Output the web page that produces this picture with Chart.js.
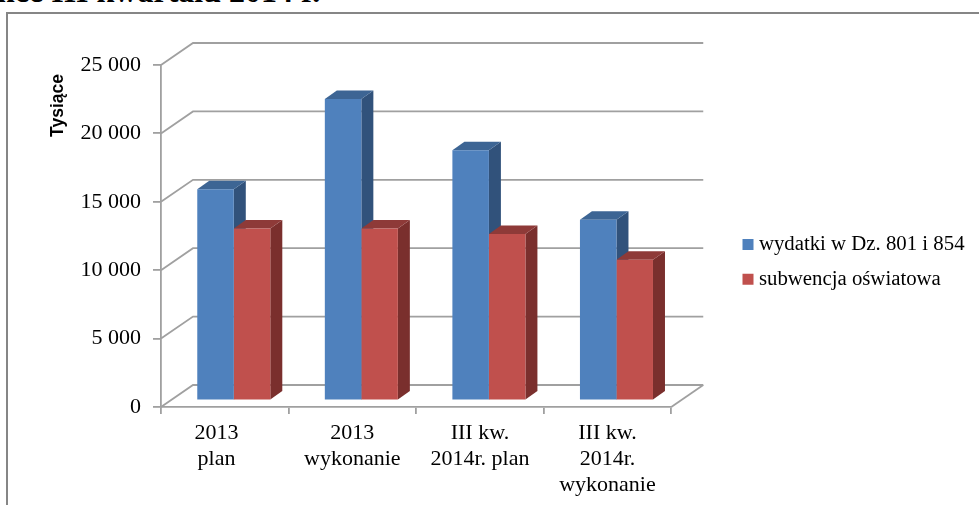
<!DOCTYPE html>
<html lang="pl">
<head>
<meta charset="utf-8">
<title>Wydatki i subwencja</title>
<script src="https://cdn.jsdelivr.net/npm/chart.js"></script>
<style>
  html, body { margin: 0; padding: 0; background: #fff; width: 979px; height: 505px; overflow: hidden; }
  #heading { position: absolute; left: -3px; top: -26px; font: bold 32px "Liberation Serif", serif; line-height: 34px; color: #000; white-space: nowrap; }
  #frame { position: absolute; left: 6px; top: 12px; width: 990px; height: 510px; border: 2px solid #868686; }
  canvas { position: absolute; left: 0; top: 0; }
</style>
</head>
<body>
<div id="heading">nce III kwartału 2014 r.</div>
<div id="frame"></div>
<canvas id="chart" width="979" height="505"></canvas>
<script>
  const categories = [['2013', 'plan'], ['2013', 'wykonanie'], ['III kw.', '2014r. plan'], ['III kw.', '2014r.', 'wykonanie']];
  const wydatki = [15440, 22040, 18290, 13220];
  const subwencja = [12580, 12580, 12180, 10290];
  const seriesNames = ['wydatki w Dz. 801 i 854', 'subwencja oświatowa'];
  const yTitle = 'Tysiące';

  const GRID = '#a0a0a0';
  // przesuniecie tylnej sciany i slupkow (pseudo 3D)
  const WALL = { dx: 32, dy: -22 };
  const BAR_SHIFT = { dx: 9, dy: -6.5 };
  const BAR_DEPTH = { dx: 12, dy: -8.5 };
  const shades = [
    { top: '#3d6594', side: '#31527b' },
    { top: '#8e3a38', side: '#7a2f2d' }
  ];

  function poly(ctx, pts, fill) {
    ctx.beginPath();
    pts.forEach((p, i) => i ? ctx.lineTo(p[0], p[1]) : ctx.moveTo(p[0], p[1]));
    ctx.closePath();
    ctx.fillStyle = fill;
    ctx.fill();
  }

  const fake3d = {
    id: 'fake3d',
    afterLayout(chart) {
      chart.legend.left = 733.5;
      chart.legend.top = 220;
      chart.legend.right = 979;
      chart.legend.bottom = 505;
    },
    beforeDatasetsDraw(chart) {
      const ctx = chart.ctx;
      const y = chart.scales.y;
      const { left, right, bottom } = chart.chartArea;

      // sciana tylna i podloga
      ctx.save();
      ctx.strokeStyle = GRID;
      ctx.lineWidth = 1.8;
      y.ticks.forEach(t => {
        const py = y.getPixelForValue(t.value);
        ctx.beginPath();
        ctx.moveTo(left, py);
        ctx.lineTo(left + WALL.dx, py + WALL.dy);
        ctx.lineTo(right + WALL.dx, py + WALL.dy);
        ctx.stroke();
      });
      ctx.beginPath();
      ctx.moveTo(right, bottom);
      ctx.lineTo(right + WALL.dx, bottom + WALL.dy);
      ctx.stroke();
      ctx.restore();

      // boki i gory slupkow
      ctx.save();
      ctx.translate(BAR_SHIFT.dx, BAR_SHIFT.dy);
      chart.data.datasets.forEach((ds, i) => {
        chart.getDatasetMeta(i).data.forEach(bar => {
          const x0 = bar.x - bar.width / 2, x1 = bar.x + bar.width / 2;
          const d = BAR_DEPTH;
          poly(ctx, [[x1, bar.y], [x1 + d.dx, bar.y + d.dy], [x1 + d.dx, bar.base + d.dy], [x1, bar.base]], shades[i].side);
          poly(ctx, [[x0, bar.y], [x0 + d.dx, bar.y + d.dy], [x1 + d.dx, bar.y + d.dy], [x1, bar.y]], shades[i].top);
        });
      });
      // przody rysuje Chart.js w tym samym przesunieciu
    },
    afterDatasetsDraw(chart) {
      const ctx = chart.ctx;
      ctx.restore();
      ctx.save();
      ctx.translate(58, 105.5);
      ctx.rotate(-Math.PI / 2);
      ctx.font = 'bold 17.5px "Liberation Sans", sans-serif';
      ctx.fillStyle = '#000';
      ctx.textAlign = 'center';
      ctx.textBaseline = 'middle';
      ctx.fillText(yTitle, 0, 0);
      ctx.restore();
    }
  };

  const serifFont = { family: '"Liberation Serif", serif', size: 22 };

  new Chart(document.getElementById('chart'), {
    type: 'bar',
    data: {
      labels: categories,
      datasets: [
        { label: seriesNames[0], data: wydatki, backgroundColor: '#4f81bd', clip: false },
        { label: seriesNames[1], data: subwencja, backgroundColor: '#c0504d', clip: false }
      ]
    },
    options: {
      responsive: false,
      animation: false,
      events: [],
      layout: { padding: { top: 65, right: 84, bottom: 0, left: 0 } },
      datasets: { bar: { categoryPercentage: 0.5725, barPercentage: 1 } },
      scales: {
        x: {
          afterFit: s => { s.height = 98; },
          grid: { drawOnChartArea: false, color: GRID, lineWidth: 1.8, tickLength: 7 },
          border: { color: GRID, width: 1.8 },
          ticks: {
            color: '#000',
            font: { ...serifFont, lineHeight: 26 / 22 },
            maxRotation: 0,
            autoSkip: false,
            padding: 6,
            // pierwszy podpis jest w oryginale przesuniety w lewo
            callback(v, i) {
              const lines = this.getLabelForValue(v);
              return i === 0 ? lines.map(l => l + '   ') : lines;
            }
          }
        },
        y: {
          min: 0,
          max: 25000,
          afterFit: s => { s.width = 161; },
          grid: { drawOnChartArea: false, color: GRID, lineWidth: 1.8, tickLength: 8 },
          border: { color: GRID, width: 1.8 },
          ticks: {
            stepSize: 5000,
            color: '#000',
            font: serifFont,
            padding: 12,
            callback: v => String(v).replace(/\B(?=(\d{3})+$)/g, ' ')
          }
        }
      },
      plugins: {
        tooltip: { enabled: false },
        legend: {
          position: 'right',
          align: 'start',
          labels: {
            color: '#000',
            font: { family: '"Liberation Serif", serif', size: 20.8 },
            usePointStyle: true,
            pointStyle: 'rect',
            boxWidth: 1,
            boxHeight: 11,
            padding: 14
          }
        }
      }
    },
    plugins: [fake3d]
  });
</script>
</body>
</html>
